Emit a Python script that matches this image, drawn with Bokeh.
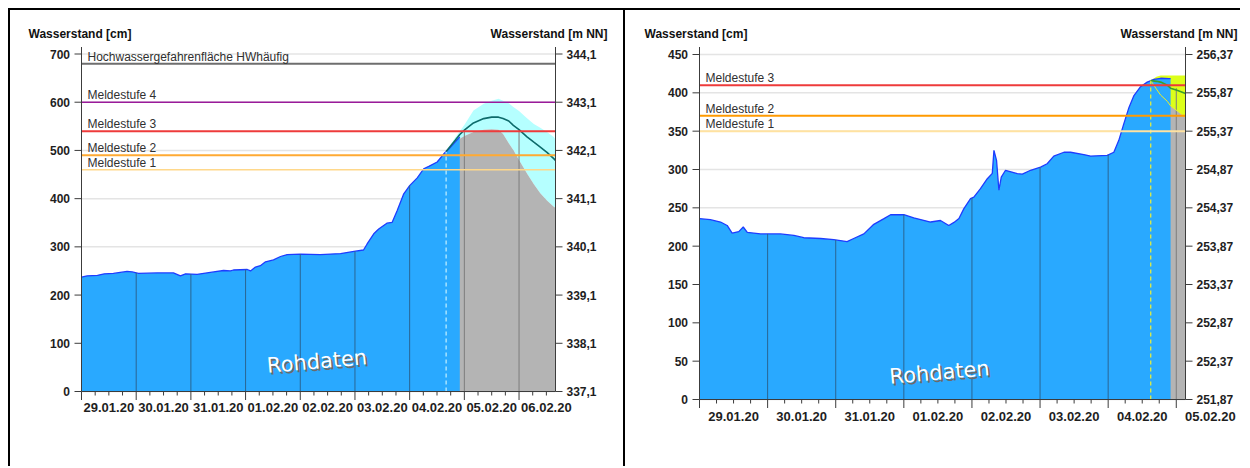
import numpy as np
import pandas as pd
from bokeh.plotting import figure
from bokeh.models import Range1d, Grid
from bokeh.layouts import row
from bokeh.embed import file_html
from bokeh.resources import INLINE
from bokeh.core.properties import value

# ---------------- data: left station ----------------
L_MEAS_TIME = ["2020-01-29 00:00", "2020-01-29 02:30", "2020-01-29 07:00", "2020-01-29 10:00", "2020-01-29 14:00",
               "2020-01-29 20:00", "2020-01-29 22:15", "2020-01-30 01:00", "2020-01-30 09:15", "2020-01-30 16:20",
               "2020-01-30 19:25", "2020-01-30 21:40", "2020-01-31 02:45", "2020-01-31 10:00", "2020-01-31 14:20",
               "2020-01-31 17:20", "2020-01-31 18:40", "2020-02-01 00:45", "2020-02-01 02:10", "2020-02-01 04:20",
               "2020-02-01 06:30", "2020-02-01 08:45", "2020-02-01 12:15", "2020-02-01 15:20", "2020-02-01 18:15",
               "2020-02-02 00:05", "2020-02-02 08:50", "2020-02-02 17:40", "2020-02-03 00:15", "2020-02-03 03:45",
               "2020-02-03 05:20", "2020-02-03 08:15", "2020-02-03 10:25", "2020-02-03 14:00", "2020-02-03 16:20",
               "2020-02-03 18:30", "2020-02-03 21:25", "2020-02-04 00:00", "2020-02-04 03:20", "2020-02-04 06:10",
               "2020-02-04 08:25", "2020-02-04 12:05", "2020-02-04 15:00", "2020-02-04 17:10", "2020-02-04 19:20",
               "2020-02-04 22:00"]
L_MEAS_CM = [237, 240, 241, 244, 245, 249, 248, 245, 246, 246,
             240, 244, 243, 248, 251, 250, 252, 253, 250, 258,
             261, 269, 273, 280, 284, 285, 284, 286, 291, 293.5,
             306, 327, 337, 349, 351, 375, 410, 427, 443, 462,
             467, 476, 493, 503, 514, 528]

L_FC_TIME = ["2020-02-04 16:00", "2020-02-04 20:00", "2020-02-04 22:00", "2020-02-05 00:00", "2020-02-05 04:00",
             "2020-02-05 08:30", "2020-02-05 12:00", "2020-02-05 15:00", "2020-02-05 17:00", "2020-02-05 19:30",
             "2020-02-05 21:30", "2020-02-06 00:00", "2020-02-06 03:30", "2020-02-06 06:30", "2020-02-06 09:20",
             "2020-02-06 12:15", "2020-02-06 15:15", "2020-02-06 16:00"]
L_FC_LOW = [498, 513, 524, 530, 538, 543, 544, 543, 534, 515, 501, 480, 452, 430, 411, 396, 383, 381]
L_FC_MED = [498, 521, 533, 542, 557, 566, 569, 569, 566, 561, 552, 543, 528, 517, 507, 496, 483, 479]
L_FC_HIGH = [498, 527, 540, 553, 583, 597, 603, 607, 603, 598, 590, 582, 567, 555, 547, 538, 528, 522]
L_NOW = "2020-02-04 16:00"

L_LEVEL_NAMES = ["Hochwassergefahrenfläche HWhäufig", "Meldestufe 4", "Meldestufe 3", "Meldestufe 2", "Meldestufe 1"]
L_LEVEL_CM = [680, 600, 540, 490, 460]

L_YTICKS = [0, 100, 200, 300, 400, 500, 600, 700]
L_YTICKS_NN = ["337,1", "338,1", "339,1", "340,1", "341,1", "342,1", "343,1", "344,1"]
L_DAYS = ["29.01.20", "30.01.20", "31.01.20", "01.02.20", "02.02.20", "03.02.20", "04.02.20", "05.02.20", "06.02.20"]
L_XRANGE = ["2020-01-29 00:00", "2020-02-06 16:00"]

# ---------------- data: right station ----------------
R_MEAS_TIME = ["2020-01-29 00:00", "2020-01-29 03:50", "2020-01-29 07:25", "2020-01-29 09:45", "2020-01-29 11:30",
               "2020-01-29 13:50", "2020-01-29 15:25", "2020-01-29 16:50", "2020-01-29 21:30", "2020-01-30 04:30",
               "2020-01-30 09:15", "2020-01-30 12:45", "2020-01-30 18:40", "2020-01-30 23:20", "2020-01-31 04:00",
               "2020-01-31 06:20", "2020-01-31 09:55", "2020-01-31 13:25", "2020-01-31 17:00", "2020-01-31 19:20",
               "2020-02-01 00:00", "2020-02-01 03:30", "2020-02-01 09:25", "2020-02-01 12:55", "2020-02-01 15:50",
               "2020-02-01 17:40", "2020-02-01 19:25", "2020-02-01 21:10", "2020-02-01 23:30", "2020-02-02 00:40",
               "2020-02-02 03:00", "2020-02-02 05:25", "2020-02-02 07:10", "2020-02-02 07:45", "2020-02-02 08:40",
               "2020-02-02 09:30", "2020-02-02 10:20", "2020-02-02 11:50", "2020-02-02 16:00", "2020-02-02 17:45",
               "2020-02-02 20:40", "2020-02-03 00:10", "2020-02-03 02:30", "2020-02-03 04:50", "2020-02-03 08:25",
               "2020-02-03 10:45", "2020-02-03 15:25", "2020-02-03 17:50", "2020-02-03 23:40", "2020-02-04 02:00",
               "2020-02-04 03:45", "2020-02-04 05:30", "2020-02-04 07:20", "2020-02-04 09:05", "2020-02-04 11:25",
               "2020-02-04 13:45", "2020-02-04 16:10", "2020-02-04 18:30", "2020-02-04 21:25", "2020-02-04 22:00"]
R_MEAS_CM = [236, 234.5, 231.5, 227, 217, 219, 225, 218, 216, 216,
             214, 211, 210, 208.5, 206, 210, 216, 228.5, 236, 241,
             241, 237, 231.5, 233.5, 227, 231, 236, 249, 262, 264,
             275, 288, 295, 325, 312, 273, 290, 299, 294.5, 294,
             299, 303, 307.5, 317.5, 322.5, 322.5, 319.5, 317.5, 318.5, 322.5,
             338, 359.5, 381, 396.5, 408, 414, 417.5, 419, 418.5, 418.5]

R_FC_TIME = ["2020-02-04 15:00", "2020-02-04 17:00", "2020-02-04 18:30", "2020-02-04 20:50",
             "2020-02-04 22:00", "2020-02-05 00:30", "2020-02-05 03:15"]
R_FC_LOW = [416, 405, 397, 389, 383, 376, 368]
R_FC_MED = [416, 415, 414, 410, 406, 403, 399]
R_FC_HIGH = [416, 421, 422.5, 422.5, 422.5, 422.5, 422.5]
R_NOW = "2020-02-04 15:00"

R_LEVEL_NAMES = ["Meldestufe 3", "Meldestufe 2", "Meldestufe 1"]
R_LEVEL_CM = [410, 370, 350]

R_YTICKS = [0, 50, 100, 150, 200, 250, 300, 350, 400, 450]
R_YTICKS_NN = ["251,87", "252,37", "252,87", "253,37", "253,87", "254,37", "254,87", "255,37", "255,87", "256,37"]
R_DAYS = ["29.01.20", "30.01.20", "31.01.20", "01.02.20", "02.02.20", "03.02.20", "04.02.20", "05.02.20"]
R_XRANGE = ["2020-01-29 00:00", "2020-02-05 03:15"]

TITLE_LEFT = "Wasserstand [cm]"
TITLE_RIGHT = "Wasserstand [m NN]"
WATERMARK = "Rohdaten"

FONT = value("Liberation Sans")
AXIS_COL = "#3c3c3c"
TEXT_COL = "#1e1e1e"
DAY_MS = 86400000.0


def to_ms(seq):
    idx = pd.to_datetime(list(seq))
    return np.asarray((idx - pd.Timestamp("1970-01-01")) / pd.Timedelta(milliseconds=1), dtype=float)


def day_labels_ms(days):
    idx = pd.to_datetime(list(days), format="%d.%m.%y") + pd.Timedelta(hours=12)
    return np.asarray((idx - pd.Timestamp("1970-01-01")) / pd.Timedelta(milliseconds=1), dtype=float)


def build(cfg):
    t0, t1 = to_ms(cfg["xrange"])
    mt, mv = to_ms(cfg["meas_t"]), np.asarray(cfg["meas_v"], float)
    ft = to_ms(cfg["fc_t"])
    flo, fmed, fhi = (np.asarray(a, float) for a in (cfg["fc_lo"], cfg["fc_med"], cfg["fc_hi"]))
    fl, fr, ftop, fb = cfg["frame"]          # page-pixel box of the plot area
    cx, cy = cfg["origin"]                   # page-pixel origin of the canvas
    W, H = cfg["width"], cfg["height"]
    ymax = cfg["ymax"]
    kx = (t1 - t0) / (fr - fl)
    ky = ymax / (fb - ftop)

    def X(px):
        return t0 + (px - fl) * kx

    def Y(py):
        return (fb - py) * ky

    p = figure(width=W, height=H, x_range=Range1d(X(cx), X(cx + W)), y_range=Range1d(Y(cy + H), Y(cy)),
               x_axis_location=None, y_axis_location=None, output_backend="svg",
               toolbar_location=None, min_border=0, styles=cfg["styles"])
    p.renderers = [r for r in p.renderers if not isinstance(r, Grid)]
    p.center = [r for r in p.center if not isinstance(r, Grid)]
    p.outline_line_color = None
    p.background_fill_color = "white"
    p.border_fill_color = "white"

    yt = np.asarray(cfg["yticks"], float)
    n = len(yt)
    # horizontal grid
    p.segment(x0=np.full(n, t0), y0=yt, x1=np.full(n, t1), y1=yt, line_color="#e4e4e4", line_width=1.5)

    # forecast band and lower-bound area
    p.varea(x=ft, y1=flo, y2=fhi, fill_color=cfg["band_color"])
    p.varea(x=ft, y1=np.zeros_like(flo), y2=flo, fill_color="#b4b4b4")
    # measured area
    p.varea(x=mt, y1=np.zeros_like(mv), y2=mv, fill_color="#29a9ff")
    p.line(mt, mv, line_color="#1e3cff", line_width=1.3)

    # day lines under the curve
    mids = np.arange(np.ceil(t0 / DAY_MS) * DAY_MS, t1 + 1, DAY_MS)
    after = ft > mt[-1]
    ct = np.concatenate([mt, ft[after]])
    cv = np.concatenate([mv, fmed[after]])
    inner = mids[(mids > t0) & (mids < t1)]
    tops = np.interp(inner, ct, cv)
    cols = ["#2a6593" if t <= mt[-1] else "#7c7c7c" for t in inner]
    p.segment(x0=inner, y0=np.zeros_like(inner), x1=inner, y1=tops, line_color=cols, line_width=1)

    # now marker
    nt = to_ms([cfg["now"]])[0]
    nv = float(np.interp(nt, mt, mv))
    p.segment(x0=[nt], y0=[0], x1=[nt], y1=[nv], line_color=cfg["now_color"], line_width=1.2, line_dash="4 3")

    if cfg.get("low_line"):
        p.line(ft, flo, line_color=cfg["low_line"], line_width=1)
    p.line(ft, fmed, line_color=cfg["med_color"], line_width=1.6)

    # warning levels
    lv = np.asarray(cfg["level_cm"], float)
    m = len(lv)
    p.segment(x0=np.full(m, t0), y0=lv, x1=np.full(m, t1), y1=lv,
              line_color=cfg["level_colors"], line_width=cfg["level_widths"])
    p.text(x=np.full(m, t0), y=lv, text=cfg["level_names"], x_offset=6, y_offset=0,
           text_font=FONT, text_font_size="12px", text_color="#303030",
           text_baseline="bottom", text_align="left")

    # axes: lines
    p.segment(x0=[t0, t1, t0], y0=[0, 0, 0], x1=[t0, t1, t1], y1=[ymax, ymax, 0],
              line_color=AXIS_COL, line_width=1)
    # y ticks (left and right)
    p.segment(x0=np.full(n, X(fl - 7)), y0=yt, x1=np.full(n, t0), y1=yt, line_color=AXIS_COL, line_width=1)
    p.segment(x0=np.full(n, t1), y0=yt, x1=np.full(n, X(fr + 7)), y1=yt, line_color=AXIS_COL, line_width=1)
    p.text(x=np.full(n, X(fl - 11.5)), y=yt, text=[str(int(v)) for v in yt],
           text_font=FONT, text_font_size="12px", text_font_style="bold", text_color=TEXT_COL,
           text_align="right", text_baseline="middle")
    p.text(x=np.full(n, X(fr + 11)), y=yt, text=cfg["yticks_nn"],
           text_font=FONT, text_font_size="12px", text_font_style="bold", text_color=TEXT_COL,
           text_align="left", text_baseline="middle")
    # x ticks: midnight long, every 6 h short
    majors = mids[mids <= t1]
    minors = np.array([t for t in np.arange(t0, t1 + 1, DAY_MS / 4) if (t - t0) % DAY_MS != 0])
    p.segment(x0=majors, y0=np.zeros_like(majors), x1=majors, y1=np.full(len(majors), Y(fb + 8.5)),
              line_color=AXIS_COL, line_width=1)
    p.segment(x0=minors, y0=np.zeros_like(minors), x1=minors, y1=np.full(len(minors), Y(fb + 4)),
              line_color=AXIS_COL, line_width=1)
    # date labels at noon
    noons = day_labels_ms(cfg["days"])
    p.text(x=noons, y=np.full(len(noons), Y(cfg["date_y"])), text=cfg["days"],
           text_font=FONT, text_font_size="13px", text_font_style="bold", text_color=TEXT_COL,
           text_align="center", text_baseline="middle")

    # axis titles
    p.text(x=[X(cfg["title_l"][0])], y=[Y(cfg["title_l"][1])], text=[TITLE_LEFT],
           text_font=FONT, text_font_size="12px", text_font_style="bold", text_color="#111111",
           text_align="left", text_baseline="middle")
    p.text(x=[X(cfg["title_r"][0])], y=[Y(cfg["title_r"][1])], text=[TITLE_RIGHT],
           text_font=FONT, text_font_size="12px", text_font_style="bold", text_color="#111111",
           text_align="right", text_baseline="middle")

    # watermark with shadow
    wx, wy = cfg["watermark"]
    for off, col in ((2, "#6a6a6a"), (0, "white")):
        p.text(x=[X(wx + off)], y=[Y(wy + off)], text=[WATERMARK], angle=0.087,
               text_font=value("DejaVu Sans"), text_font_size="21px", text_color=col,
               text_align="center", text_baseline="middle")
    return p


left = build(dict(
    xrange=L_XRANGE, meas_t=L_MEAS_TIME, meas_v=L_MEAS_CM, fc_t=L_FC_TIME,
    fc_lo=L_FC_LOW, fc_med=L_FC_MED, fc_hi=L_FC_HIGH, now=L_NOW,
    level_names=L_LEVEL_NAMES, level_cm=L_LEVEL_CM,
    level_colors=["#6e6e6e", "#9a1a9a", "#ee3b3b", "#ffaa33", "#ffd88a"],
    level_widths=[2, 1.5, 2, 2, 1.5],
    yticks=L_YTICKS, yticks_nn=L_YTICKS_NN, days=L_DAYS,
    frame=(81, 555, 46.5, 391), ymax=(391 - 46.5) / ((391 - 53.5) / 700.0),
    origin=(10, 10), width=617, height=458, date_y=406.5,
    styles={"border-left": "2px solid black", "border-top": "2px solid black",
            "border-right": "2px solid black", "margin-left": "8px", "margin-top": "8px"},
    band_color="#b5ffff", med_color="#0d6b6b", now_color="#c4f0ff", low_line=None,
    title_l=(28, 33), title_r=(607, 33), watermark=(316.5, 361)))

right = build(dict(
    xrange=R_XRANGE, meas_t=R_MEAS_TIME, meas_v=R_MEAS_CM, fc_t=R_FC_TIME,
    fc_lo=R_FC_LOW, fc_med=R_FC_MED, fc_hi=R_FC_HIGH, now=R_NOW,
    level_names=R_LEVEL_NAMES, level_cm=R_LEVEL_CM,
    level_colors=["#ee3b3b", "#ff9a00", "#ffe2a0"],
    level_widths=[2, 2, 2],
    yticks=R_YTICKS, yticks_nn=R_YTICKS_NN, days=R_DAYS,
    frame=(699, 1185, 46.5, 399), ymax=(399 - 46.5) / ((399 - 54) / 450.0),
    origin=(625, 10), width=615, height=458, date_y=415.5,
    styles={"border-top": "2px solid black", "margin-top": "8px"},
    band_color="#dcff1a", med_color="#3aa02a", now_color="#f2f230", low_line="#eeee22",
    title_l=(644, 33), title_r=(1237, 33), watermark=(939, 372)))

layout = row(left, right, spacing=0)
open("out.html", "w").write(file_html(layout, INLINE))
